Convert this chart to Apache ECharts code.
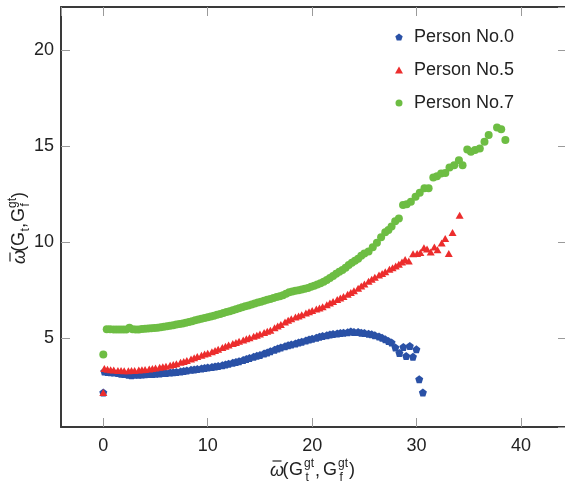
<!DOCTYPE html>
<html lang="en" style="height: 100%">
<head>
  <meta charset="utf-8">
</head>
<body style="height: 100%; margin: 0; background: #fff">
  <div id="container" style="width: 565px; height: 484px"></div>

  <script type="text/javascript" src="https://cdn.jsdelivr.net/npm/echarts@6/dist/echarts.min.js"></script>

  <script type="text/javascript">
    var dom = document.getElementById('container');
    var myChart = echarts.init(dom, null, { renderer: 'canvas' });

    const seriesNames = ['Person No.0', 'Person No.5', 'Person No.7'];
    const seriesColors = ['#2a51a6', '#ec2d2d', '#6dbd43'];

    // [x, y]
    const person0 = [
      [0, 2.15],
      [0.1, 3.25], [0.4, 3.22], [0.7, 3.21], [1.0, 3.19], [1.4, 3.16], [1.7, 3.13], [2.0, 3.11], [2.4, 3.08],
      [2.7, 3.05], [3.0, 3.08], [3.4, 3.07], [3.7, 3.09], [4.0, 3.10], [4.4, 3.11], [4.7, 3.12], [5.0, 3.13],
      [5.4, 3.14], [5.7, 3.16], [6.0, 3.17], [6.4, 3.19], [6.7, 3.20], [7.0, 3.22], [7.4, 3.25], [7.7, 3.27],
      [8.0, 3.30], [8.4, 3.33], [8.7, 3.35], [9.0, 3.37], [9.4, 3.40], [9.7, 3.43], [10.0, 3.45], [10.4, 3.48],
      [10.7, 3.51], [11.0, 3.53], [11.4, 3.57], [11.7, 3.61], [12.0, 3.65], [12.4, 3.70], [12.7, 3.74], [13.0, 3.78],
      [13.4, 3.85], [13.7, 3.90], [14.0, 3.95], [14.4, 4.01], [14.7, 4.06], [15.0, 4.10], [15.4, 4.18], [15.7, 4.24],
      [16.0, 4.30], [16.4, 4.38], [16.7, 4.44], [17.0, 4.50], [17.4, 4.56], [17.7, 4.61], [18.0, 4.65], [18.4, 4.71],
      [18.7, 4.76], [19.0, 4.80], [19.4, 4.86], [19.7, 4.91], [20.0, 4.95], [20.4, 5.01], [20.7, 5.06], [21.0, 5.10],
      [21.4, 5.14], [21.7, 5.17], [22.0, 5.20], [22.4, 5.23], [22.7, 5.25], [23.0, 5.27], [23.4, 5.29], [23.7, 5.33],
      [24.0, 5.31], [24.4, 5.30], [24.7, 5.27], [25.0, 5.25], [25.4, 5.21], [25.7, 5.18], [26.0, 5.14], [26.4, 5.07],
      [26.7, 5.00], [27.0, 4.92], [27.3, 4.84], [27.6, 4.76],
      [27.97, 4.50], [28.35, 4.21], [28.73, 4.52], [29.0, 4.05], [29.35, 4.58], [29.65, 4.01], [29.98, 4.40],
      [30.25, 2.84], [30.6, 2.15]
    ];

    const person5 = [
      [0, 2.15],
      [0.1, 3.40], [0.4, 3.36], [0.7, 3.34], [1.0, 3.32], [1.4, 3.30], [1.7, 3.29], [2.0, 3.28], [2.4, 3.28],
      [2.7, 3.29], [3.0, 3.30], [3.4, 3.32], [3.7, 3.33], [4.0, 3.35], [4.4, 3.38], [4.7, 3.40], [5.0, 3.42],
      [5.4, 3.46], [5.7, 3.49], [6.0, 3.52], [6.4, 3.57], [6.7, 3.61], [7.0, 3.65], [7.4, 3.72], [7.7, 3.77],
      [8.0, 3.82], [8.4, 3.90], [8.7, 3.96], [9.0, 4.02], [9.4, 4.09], [9.7, 4.15], [10.0, 4.20], [10.4, 4.28],
      [10.7, 4.34], [11.0, 4.40], [11.4, 4.49], [11.7, 4.56], [12.0, 4.62], [12.4, 4.70], [12.7, 4.76], [13.0, 4.82],
      [13.4, 4.89], [13.7, 4.95], [14.0, 5.00], [14.4, 5.08], [14.7, 5.14], [15.0, 5.20], [15.4, 5.28], [15.7, 5.34],
      [16.0, 5.40], [16.4, 5.52], [16.7, 5.61], [17.0, 5.70], [17.4, 5.82], [17.7, 5.91], [18.0, 6.00], [18.4, 6.08],
      [18.7, 6.14], [19.0, 6.20], [19.4, 6.29], [19.7, 6.36], [20.0, 6.42], [20.4, 6.50], [20.7, 6.56], [21.0, 6.62],
      [21.4, 6.73], [21.7, 6.81], [22.0, 6.90], [22.4, 7.00], [22.7, 7.08], [23.0, 7.15], [23.4, 7.27], [23.7, 7.36],
      [24.0, 7.45], [24.4, 7.59], [24.7, 7.70], [25.0, 7.80], [25.4, 7.95], [25.7, 8.05], [26.0, 8.16], [26.4, 8.28],
      [26.7, 8.36], [27.0, 8.45], [27.4, 8.57], [27.7, 8.66], [28.0, 8.75], [28.3, 8.84], [28.6, 8.95],
      [28.9, 9.09], [29.25, 9.01], [29.66, 9.38], [30.05, 9.40], [30.36, 9.45], [30.7, 9.70], [31.0, 9.63],
      [31.35, 9.48], [31.7, 9.74], [32.0, 9.59], [32.4, 9.95], [32.74, 10.18], [33.08, 9.40], [33.44, 10.49],
      [34.12, 11.39]
    ];

    const person7 = [
      [0, 4.13],
      [0.33, 5.45], [0.65, 5.45], [1.0, 5.44], [1.3, 5.44], [1.6, 5.43], [1.9, 5.43], [2.2, 5.44], [2.5, 5.53],
      [2.8, 5.45], [3.1, 5.43], [3.4, 5.44], [3.7, 5.46], [4.0, 5.47], [4.3, 5.48], [4.6, 5.50], [4.9, 5.51],
      [5.2, 5.53], [5.5, 5.55], [5.8, 5.58], [6.1, 5.60], [6.4, 5.63], [6.7, 5.66], [7.0, 5.69], [7.3, 5.72],
      [7.6, 5.75], [7.9, 5.79], [8.2, 5.83], [8.5, 5.87], [8.8, 5.91], [9.1, 5.95], [9.4, 5.99], [9.7, 6.03],
      [10.0, 6.07], [10.3, 6.11], [10.6, 6.15], [10.9, 6.20], [11.2, 6.24], [11.5, 6.29], [11.8, 6.34], [12.1, 6.39],
      [12.4, 6.44], [12.7, 6.49], [13.0, 6.54], [13.3, 6.59], [13.6, 6.64], [13.9, 6.69], [14.2, 6.74], [14.5, 6.79],
      [14.8, 6.84], [15.1, 6.88], [15.4, 6.93], [15.7, 6.98], [16.0, 7.03], [16.3, 7.08], [16.6, 7.13], [16.9, 7.17],
      [17.2, 7.22], [17.5, 7.30], [17.8, 7.38], [18.1, 7.42], [18.4, 7.45], [18.7, 7.48], [19.0, 7.52], [19.3, 7.56],
      [19.6, 7.60], [19.9, 7.66], [20.2, 7.72], [20.5, 7.78], [20.8, 7.84], [21.1, 7.92], [21.4, 8.02], [21.7, 8.12],
      [22.0, 8.22], [22.3, 8.34], [22.6, 8.44], [22.9, 8.54], [23.2, 8.66], [23.5, 8.80], [23.8, 8.92], [24.1, 9.02],
      [24.4, 9.12], [24.7, 9.28], [25.0, 9.40], [25.4, 9.50], [25.8, 9.72], [26.2, 9.96], [26.6, 10.25], [27.0, 10.50],
      [27.3, 10.62], [27.6, 10.80], [27.95, 11.08], [28.3, 11.22], [28.7, 11.92], [29.05, 11.97], [29.45, 12.09],
      [29.9, 12.35], [30.3, 12.56], [30.75, 12.80], [31.15, 12.80], [31.6, 13.36], [31.95, 13.43], [32.35, 13.57],
      [32.75, 13.60], [33.15, 13.88], [33.6, 14.00], [34.05, 14.26], [34.4, 14.00], [34.85, 14.82], [35.2, 14.70],
      [35.6, 14.79], [36.05, 14.87], [36.5, 15.22], [36.9, 15.57], [37.7, 15.97], [38.1, 15.87], [38.5, 15.31]
    ];

    const xRange = [-4.05, 44.4];
    const yRange = [0.35, 22.25];

    const pentagon = 'path://M0,-10L9.51,-3.09L5.88,8.09L-5.88,8.09L-9.51,-3.09Z';
    const font = '"Liberation Sans", Arial, sans-serif';
    const frame = { show: true, onZero: false, lineStyle: { color: '#3a3a3a', width: 2 } };
    const ticks = { show: true, inside: true, length: 9, lineStyle: { color: '#9a9a9a', width: 1 } };

    function axis(pos, range, step, labels) {
      return {
        type: 'value',
        position: pos,
        min: range[0],
        max: range[1],
        splitNumber: 5,
        axisLine: frame,
        axisTick: ticks,
        splitLine: { show: false },
        axisLabel: {
          show: labels,
          fontSize: 18,
          fontFamily: font,
          color: '#222',
          margin: pos === 'bottom' ? 10 : 7,
          showMinLabel: false,
          showMaxLabel: false,
          formatter: function (v) {
            return Math.abs(v % step) < 1e-6 ? String(v) : '';
          }
        }
      };
    }

    function txt(x, y, s, size, italic) {
      return {
        type: 'text', x: x, y: y,
        style: {
          text: s, font: (italic ? 'italic ' : '') + size + 'px ' + font,
          fill: '#222', align: 'left', verticalAlign: 'middle'
        }
      };
    }

    const xTitle = [
      txt(270, 471, 'ω', 18, true),
      { type: 'line', shape: { x1: 272.5, y1: 461, x2: 281.5, y2: 461 }, style: { stroke: '#222', lineWidth: 1.2 } },
      txt(282.5, 470, '(', 18),
      txt(289, 470, 'G', 18),
      txt(304, 464, 'gt', 12),
      txt(305.5, 477.5, 't', 12),
      txt(315, 471, ',', 18),
      txt(323, 470, 'G', 18),
      txt(338, 464, 'gt', 12),
      txt(339.5, 477.5, 'f', 12),
      txt(349, 470, ')', 18)
    ];

    const yTitle = {
      type: 'group',
      x: 19,
      y: 264,
      rotation: Math.PI / 2,
      children: [
        txt(0, 1, 'ω', 18, true),
        { type: 'line', shape: { x1: 2.5, y1: -9, x2: 11.5, y2: -9 }, style: { stroke: '#222', lineWidth: 1.2 } },
        txt(12, 0, '(', 18),
        txt(18, 0, 'G', 18),
        txt(32.5, 7, 't', 12),
        txt(36, 1, ',', 18),
        txt(42, 0, 'G', 18),
        txt(56, -6, 'gt', 12),
        txt(57.5, 7, 'f', 12),
        txt(66, 0, ')', 18)
      ]
    };

    const option = {
      animation: false,
      backgroundColor: '#fff',
      grid: { left: 61, right: -2, top: 7, bottom: 57, containLabel: false, outerBoundsMode: 'none' },
      legend: {
        orient: 'vertical',
        left: 390,
        top: 23,
        itemWidth: 8,
        itemHeight: 7,
        itemGap: 15,
        textStyle: { fontSize: 18, fontFamily: font, color: '#222', padding: [0, 0, 0, 6] },
        data: seriesNames
      },
      xAxis: [axis('bottom', xRange, 10, true), axis('top', xRange, 10, false)],
      yAxis: [axis('left', yRange, 5, true), axis('right', yRange, 5, false)],
      series: [
        { name: seriesNames[0], type: 'scatter', data: person0, symbol: pentagon, symbolSize: 8, itemStyle: { color: seriesColors[0], opacity: 1 } },
        { name: seriesNames[1], type: 'scatter', data: person5, symbol: 'triangle', symbolSize: [8, 7], itemStyle: { color: seriesColors[1], opacity: 1 } },
        { name: seriesNames[2], type: 'scatter', data: person7, symbol: 'circle', symbolSize: 8, itemStyle: { color: seriesColors[2], opacity: 1 } }
      ],
      graphic: { elements: xTitle.concat([yTitle]) }
    };

    myChart.setOption(option);
    window.addEventListener('resize', myChart.resize);
  </script>
</body>
</html>
